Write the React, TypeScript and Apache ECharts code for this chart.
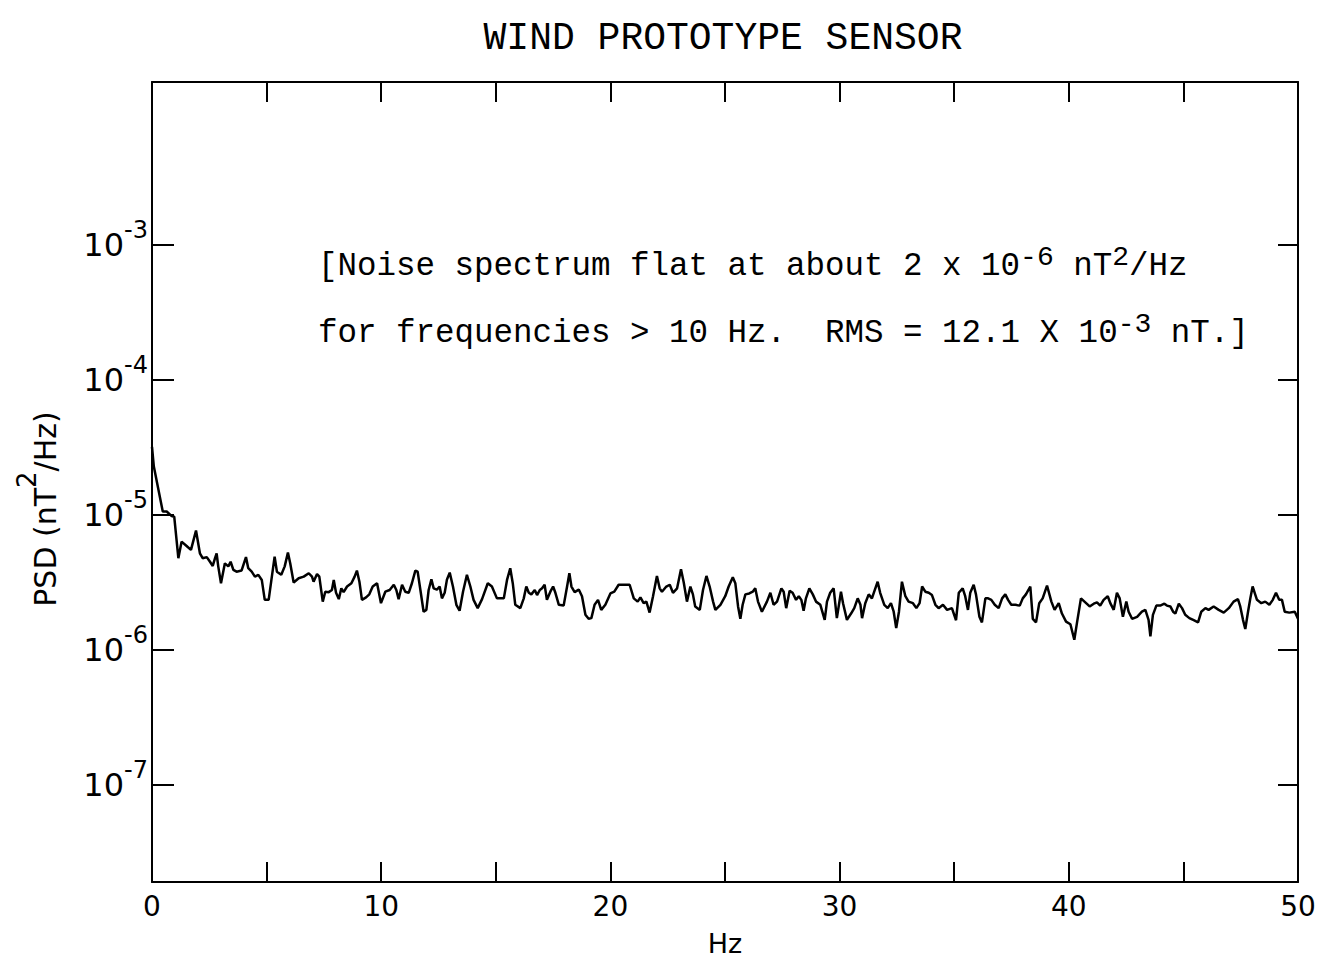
import React, { useEffect, useRef } from 'react';
import * as echarts from 'echarts';

// Frequency (Hz) of each traced vertex of the spectrum
const freqHz = [
  0.0, 0.08, 0.47, 0.64, 0.86, 0.97, 1.15, 1.29, 1.51, 1.7, 1.92, 2.09, 2.21, 2.39, 2.53, 2.65, 2.75, 2.82, 2.89, 3.01,
  3.18, 3.33, 3.43, 3.55, 3.69, 3.91, 4.1, 4.2, 4.35, 4.49, 4.64, 4.79,
  4.92, 5.09, 5.21, 5.35, 5.45, 5.64, 5.79, 5.93, 6.03, 6.18, 6.4, 6.62, 6.84, 6.98, 7.05, 7.2, 7.3, 7.45, 7.56, 7.71,
  7.85, 7.93, 8.03, 8.15, 8.26, 8.36, 8.51, 8.7, 8.84, 8.94, 9.05, 9.16, 9.34, 9.48, 9.63, 9.82,
  9.99, 10.18, 10.37, 10.55, 10.66, 10.76, 10.91, 11.05, 11.2, 11.34, 11.49, 11.59, 11.71, 11.85, 11.97, 12.07, 12.19,
  12.29, 12.43, 12.55, 12.65, 12.77, 12.87, 12.99, 13.13, 13.28, 13.42, 13.57, 13.74, 13.89, 14.03, 14.21, 14.4, 14.65, 14.83,
  15.05, 15.35, 15.49, 15.63, 15.74, 15.85, 16.07, 16.22, 16.33, 16.44, 16.55, 16.7, 16.8, 16.92, 17.02, 17.13, 17.23,
  17.38, 17.5, 17.6, 17.75, 17.96, 18.11, 18.21, 18.3, 18.44, 18.62, 18.76, 18.91, 19.05, 19.17, 19.31, 19.46, 19.6, 19.78,
  20.0, 20.17, 20.36, 20.58, 20.84, 21.02, 21.19, 21.31, 21.45, 21.57, 21.71, 21.86, 22.03, 22.15, 22.25, 22.44, 22.59,
  22.73, 22.91, 23.08, 23.2, 23.34, 23.49, 23.6, 23.7, 23.9, 24.04, 24.19, 24.33, 24.48, 24.58, 24.8,
  25.01, 25.16, 25.34, 25.45, 25.57, 25.67, 25.77, 25.89, 26.06, 26.21, 26.32, 26.44, 26.61, 26.83, 26.98, 27.12, 27.27,
  27.46, 27.56, 27.67, 27.82, 27.95, 28.1, 28.22, 28.33, 28.43, 28.53, 28.68, 28.83, 28.97, 29.16, 29.35, 29.45, 29.59, 29.74, 29.88,
  30.06, 30.15, 30.32, 30.5, 30.64, 30.79, 30.91, 30.98, 31.12, 31.27, 31.41, 31.51, 31.66, 31.77, 31.95, 32.1, 32.24,
  32.36, 32.47, 32.59, 32.72, 32.87, 33.01, 33.2, 33.35, 33.49, 33.6, 33.74, 33.89, 34.03, 34.18, 34.32, 34.51, 34.69, 34.9,
  35.08, 35.2, 35.37, 35.48, 35.6, 35.7, 35.85, 35.95, 36.1, 36.21, 36.36, 36.48, 36.62, 36.77, 36.94, 37.09, 37.23,
  37.35, 37.49, 37.67, 37.86, 37.99, 38.13, 38.32, 38.43, 38.57, 38.71, 38.86, 39.05, 39.24, 39.38, 39.56, 39.7, 39.88,
  40.07, 40.24, 40.36, 40.53, 40.72, 40.91, 41.09, 41.23, 41.37, 41.52, 41.7, 41.81, 41.96, 42.1, 42.22, 42.36, 42.51,
  42.61, 42.76, 42.98, 43.19, 43.34, 43.48, 43.56, 43.67, 43.82, 43.99, 44.17, 44.28, 44.43, 44.55, 44.65, 44.8, 44.94,
  45.08, 45.26, 45.45, 45.64, 45.78, 45.96, 46.1, 46.32, 46.54, 46.76, 46.98, 47.19, 47.38, 47.48, 47.6, 47.7, 47.82,
  47.92, 48.02, 48.11, 48.21, 48.4, 48.57, 48.75, 48.9, 49.04, 49.18, 49.3, 49.42, 49.62, 49.86, 50.0,
];

// PSD (nT^2/Hz) read at each vertex
const psd = [
  3.19e-5, 2.28e-5, 1.06e-5, 1.06e-5, 9.8e-6, 9.7e-6, 4.78e-6, 6.34e-6, 5.89e-6, 5.51e-6, 7.66e-6, 5.2e-6, 4.78e-6, 4.87e-6, 4.5e-6, 4.19e-6, 4.78e-6, 5.2e-6, 4.16e-6, 3.12e-6,
  4.38e-6, 4.16e-6, 4.5e-6, 3.92e-6, 3.8e-6, 3.88e-6, 4.87e-6, 4.03e-6, 3.8e-6, 3.49e-6, 3.6e-6, 3.3e-6,
  2.35e-6, 2.35e-6, 3.3e-6, 4.91e-6, 3.8e-6, 3.6e-6, 4.16e-6, 5.26e-6, 4.38e-6, 3.16e-6, 3.4e-6, 3.49e-6, 3.7e-6, 3.49e-6, 3.2e-6, 3.65e-6, 3.49e-6, 2.28e-6, 2.7e-6, 2.68e-6,
  2.78e-6, 3.3e-6, 2.65e-6, 2.38e-6, 2.86e-6, 2.68e-6, 2.95e-6, 3.12e-6, 3.49e-6, 3.87e-6, 3.2e-6, 2.35e-6, 2.45e-6, 2.58e-6, 2.95e-6, 3.12e-6,
  2.22e-6, 2.7e-6, 2.78e-6, 3.04e-6, 2.78e-6, 2.38e-6, 3.04e-6, 2.7e-6, 2.65e-6, 3.12e-6, 3.87e-6, 3.8e-6, 2.78e-6, 1.92e-6, 1.98e-6, 2.78e-6, 3.33e-6,
  2.86e-6, 2.8e-6, 2.95e-6, 2.41e-6, 2.65e-6, 3.33e-6, 3.74e-6, 2.95e-6, 2.16e-6, 1.95e-6, 2.7e-6, 3.6e-6, 2.95e-6, 2.35e-6, 2.04e-6, 2.38e-6, 3.12e-6, 2.95e-6,
  2.41e-6, 2.41e-6, 3.3e-6, 4.03e-6, 3.12e-6, 2.16e-6, 2.04e-6, 2.41e-6, 2.95e-6, 2.65e-6, 2.58e-6, 2.78e-6, 2.55e-6, 2.78e-6, 2.86e-6, 3.04e-6, 2.35e-6,
  2.7e-6, 2.95e-6, 2.65e-6, 2.16e-6, 2.13e-6, 2.95e-6, 3.7e-6, 2.95e-6, 2.68e-6, 2.8e-6, 2.5e-6, 1.82e-6, 1.7e-6, 1.72e-6, 2.16e-6, 2.35e-6, 1.98e-6, 2.16e-6,
  2.62e-6, 2.7e-6, 3.04e-6, 3.04e-6, 3.04e-6, 2.41e-6, 2.28e-6, 2.45e-6, 2.22e-6, 2.28e-6, 1.89e-6, 2.5e-6, 3.53e-6, 2.86e-6, 2.7e-6, 2.95e-6, 3.04e-6,
  2.65e-6, 2.86e-6, 3.96e-6, 3.16e-6, 2.28e-6, 2.95e-6, 2.58e-6, 2.1e-6, 1.98e-6, 2.78e-6, 3.53e-6, 2.95e-6, 2.28e-6, 1.98e-6, 2.16e-6,
  2.5e-6, 2.95e-6, 3.45e-6, 3.12e-6, 2.1e-6, 1.7e-6, 2.16e-6, 2.58e-6, 2.62e-6, 2.7e-6, 2.86e-6, 2.28e-6, 1.92e-6, 2.28e-6, 2.65e-6, 2.16e-6, 2.28e-6,
  2.86e-6, 2.7e-6, 2.04e-6, 2.74e-6, 2.65e-6, 2.35e-6, 2.5e-6, 2.35e-6, 1.95e-6, 2.41e-6, 2.86e-6, 2.58e-6, 2.28e-6, 2.16e-6, 1.67e-6, 2.28e-6, 2.65e-6, 2.86e-6, 1.72e-6,
  2.7e-6, 2.22e-6, 1.67e-6, 1.86e-6, 2.04e-6, 2.41e-6, 2.16e-6, 1.72e-6, 2.22e-6, 2.58e-6, 2.41e-6, 2.7e-6, 3.2e-6, 2.65e-6, 2.16e-6, 2.04e-6, 2.22e-6,
  1.92e-6, 1.45e-6, 1.92e-6, 3.2e-6, 2.5e-6, 2.28e-6, 2.22e-6, 2.04e-6, 2.22e-6, 2.95e-6, 2.7e-6, 2.65e-6, 2.55e-6, 2.16e-6, 2.04e-6, 2.16e-6, 1.98e-6, 2.04e-6,
  1.66e-6, 2.65e-6, 2.86e-6, 2.5e-6, 1.98e-6, 2.65e-6, 3.04e-6, 2.58e-6, 1.76e-6, 1.6e-6, 2.41e-6, 2.41e-6, 2.35e-6, 2.16e-6, 2.04e-6, 2.41e-6, 2.58e-6,
  2.35e-6, 2.16e-6, 2.16e-6, 2.13e-6, 2.41e-6, 2.58e-6, 2.95e-6, 1.7e-6, 1.6e-6, 2.22e-6, 2.41e-6, 3.0e-6, 2.28e-6, 1.98e-6, 2.22e-6, 1.86e-6, 1.62e-6,
  1.55e-6, 1.19e-6, 1.6e-6, 2.41e-6, 2.25e-6, 2.1e-6, 2.2e-6, 2.25e-6, 2.13e-6, 2.35e-6, 2.5e-6, 2.22e-6, 1.98e-6, 2.65e-6, 2.41e-6, 1.76e-6, 2.28e-6,
  1.92e-6, 1.7e-6, 1.76e-6, 1.92e-6, 1.98e-6, 1.67e-6, 1.26e-6, 1.82e-6, 2.13e-6, 2.13e-6, 2.2e-6, 2.13e-6, 2.1e-6, 1.92e-6, 1.86e-6, 2.2e-6, 2.04e-6,
  1.82e-6, 1.72e-6, 1.66e-6, 1.6e-6, 1.92e-6, 2.04e-6, 1.98e-6, 2.1e-6, 1.98e-6, 1.89e-6, 2.04e-6, 2.28e-6, 2.38e-6, 2.1e-6, 1.67e-6, 1.43e-6, 1.92e-6,
  2.41e-6, 2.95e-6, 2.65e-6, 2.35e-6, 2.22e-6, 2.28e-6, 2.16e-6, 2.35e-6, 2.65e-6, 2.35e-6, 2.35e-6, 1.92e-6, 1.89e-6, 1.92e-6, 1.7e-6,
];

const xMin = 0;
const xMax = 50;
const xTickStep = 5;
const xLabelStep = 10;
const yTickValues = [1e-7, 1e-6, 1e-5, 1e-4, 1e-3];
const yMinExp = -7.719;
const yMaxExp = -1.793;

const titleText = 'WIND PROTOTYPE SENSOR';
const noteLine1 = '[Noise spectrum flat at about 2 x 10{s|-6} nT{s|2}/Hz';
const noteLine2 = 'for frequencies > 10 Hz.  RMS = 12.1 X 10{s|-3} nT.]';
const yAxisTitle = 'PSD (nT{s|2}/Hz)';
const xAxisTitle = 'Hz';

const SANS = '"DejaVu Sans", sans-serif';
const MONO = '"Liberation Mono", "DejaVu Sans Mono", monospace';

export default function App() {
  const ref = useRef<HTMLDivElement>(null);

  useEffect(() => {
    if (!ref.current) return;
    const chart = echarts.init(ref.current, null, { renderer: 'svg' });
    const data = freqHz.map((f, i) => [f, psd[i]]);
    const yMin = Math.pow(10, yMinExp);
    const yMax = Math.pow(10, yMaxExp);

    const axisLine = { show: true, onZero: false, lineStyle: { color: '#000', width: 2 } };
    const tickStyle = { color: '#000', width: 2 };

    chart.setOption({
      animation: false,
      backgroundColor: '#fff',
      grid: { left: 152, top: 82, width: 1146, height: 800, containLabel: false, outerBoundsMode: 'none' },
      xAxis: [
        {
          type: 'value',
          position: 'bottom',
          min: xMin,
          max: xMax,
          interval: xTickStep,
          axisLine,
          axisTick: { show: true, inside: true, length: 20, lineStyle: tickStyle },
          axisLabel: {
            show: true,
            color: '#000',
            fontFamily: SANS,
            fontWeight: 'normal',
            fontSize: 28,
            margin: 10,
            showMinLabel: true,
            showMaxLabel: true,
            formatter: (v: number) => (Math.round(v) % xLabelStep === 0 ? String(Math.round(v)) : ''),
          },
          splitLine: { show: false },
        },
        {
          type: 'value',
          position: 'top',
          min: xMin,
          max: xMax,
          interval: xTickStep,
          axisLine,
          axisTick: { show: true, inside: true, length: 20, lineStyle: tickStyle },
          axisLabel: { show: false },
          splitLine: { show: false },
        },
      ],
      yAxis: [
        {
          type: 'log',
          logBase: 10,
          position: 'left',
          min: yMin,
          max: yMax,
          axisLine,
          axisTick: { show: true, inside: true, length: 22, lineStyle: tickStyle, customValues: yTickValues },
          axisLabel: {
            show: true,
            customValues: yTickValues,
            margin: 4,
            color: '#000',
            formatter: (v: number) => `{b|10}{s|${Math.round(Math.log10(v))}}`,
            rich: {
              b: { fontFamily: SANS, fontSize: 32, color: '#000' },
              s: { fontFamily: SANS, fontSize: 24, color: '#000', padding: [0, 0, 30, 0] },
            },
          },
          splitLine: { show: false },
        },
        {
          type: 'log',
          logBase: 10,
          position: 'right',
          min: yMin,
          max: yMax,
          axisLine,
          axisTick: { show: true, inside: true, length: 20, lineStyle: tickStyle, customValues: yTickValues },
          axisLabel: { show: false },
          splitLine: { show: false },
        },
      ],
      series: [
        {
          type: 'line',
          xAxisIndex: 0,
          yAxisIndex: 0,
          data,
          showSymbol: false,
          symbol: 'none',
          lineStyle: { color: '#000', width: 2.5 },
          silent: true,
        },
      ],
      graphic: [
        {
          type: 'text',
          x: 723,
          y: 38,
          style: { text: titleText, fontFamily: MONO, fontSize: 38, fill: '#000', align: 'center', verticalAlign: 'middle' },
        },
        {
          type: 'text',
          x: 318,
          y: 266,
          style: {
            text: noteLine1,
            fontFamily: MONO,
            fontSize: 32.5,
            fill: '#000',
            align: 'left',
            verticalAlign: 'middle',
            rich: { s: { fontFamily: MONO, fontSize: 28, fill: '#000', padding: [0, 0, 18, 0] } },
          },
        },
        {
          type: 'text',
          x: 318,
          y: 333,
          style: {
            text: noteLine2,
            fontFamily: MONO,
            fontSize: 32.5,
            fill: '#000',
            align: 'left',
            verticalAlign: 'middle',
            rich: { s: { fontFamily: MONO, fontSize: 28, fill: '#000', padding: [0, 0, 18, 0] } },
          },
        },
        {
          type: 'text',
          x: 45,
          y: 509,
          rotation: Math.PI / 2,
          style: {
            text: yAxisTitle,
            fontFamily: SANS,
            fontSize: 30,
            fill: '#000',
            align: 'center',
            verticalAlign: 'middle',
            rich: { s: { fontFamily: SANS, fontSize: 26, fill: '#000', padding: [0, 0, 36, 0] } },
          },
        },
        {
          type: 'text',
          x: 725,
          y: 943,
          style: { text: xAxisTitle, fontFamily: SANS, fontSize: 27, fill: '#000', align: 'center', verticalAlign: 'middle' },
        },
      ],
    });

    return () => chart.dispose();
  }, []);

  return (
    <div
      ref={ref}
      style={{ position: 'absolute', left: 0, top: 0, width: 1321, height: 959, background: '#fff' }}
    />
  );
}
